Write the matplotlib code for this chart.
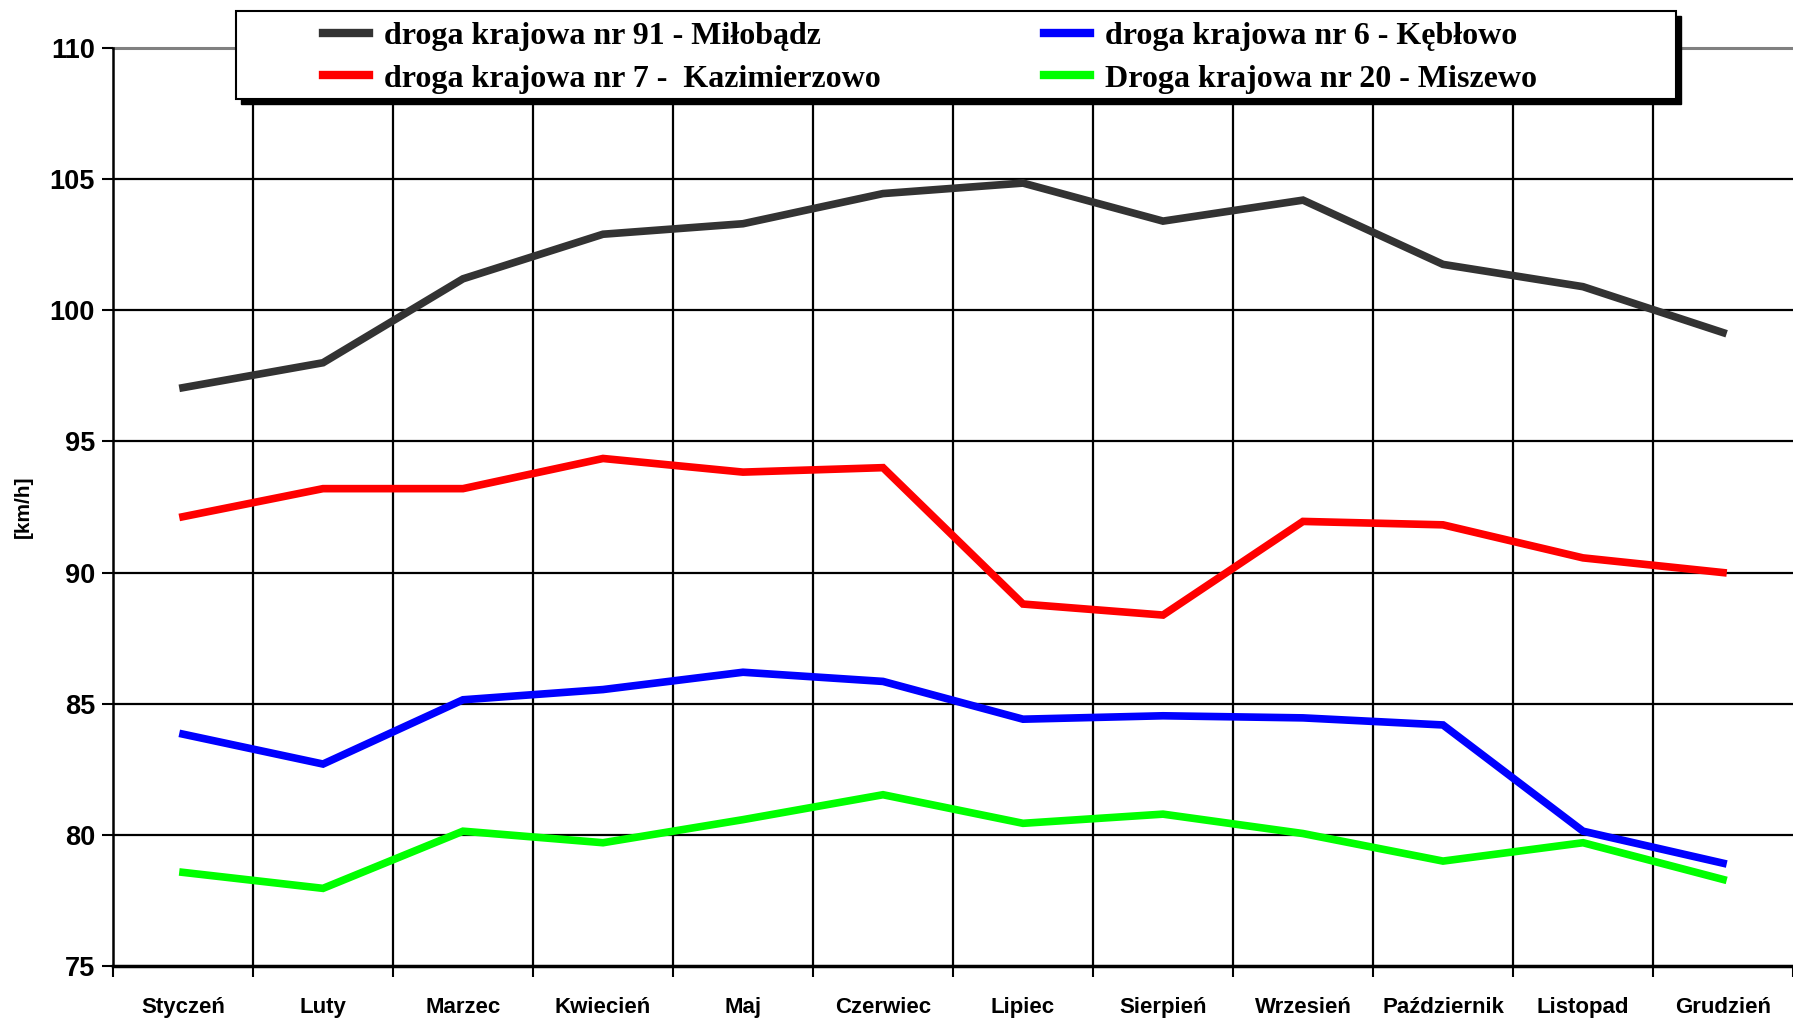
import numpy as np
import matplotlib.pyplot as plt
from matplotlib.patches import Rectangle

months = ["Styczeń", "Luty", "Marzec", "Kwiecień", "Maj", "Czerwiec",
          "Lipiec", "Sierpień", "Wrzesień", "Październik", "Listopad", "Grudzień"]

dk91 = [97.05, 98.0, 101.2, 102.9, 103.3, 104.45, 104.85, 103.4, 104.2, 101.75, 100.9, 99.15]
dk7 = [92.13, 93.2, 93.2, 94.35, 93.83, 94.0, 88.8, 88.38, 91.95, 91.82, 90.56, 90.0]
dk6 = [83.84, 82.7, 85.15, 85.54, 86.2, 85.85, 84.41, 84.54, 84.46, 84.19, 80.14, 78.92]
dk20 = [78.57, 77.96, 80.14, 79.7, 80.58, 81.53, 80.44, 80.79, 80.05, 79.0, 79.7, 78.3]

names = ["droga krajowa nr 91 - Miłobądz",
         "droga krajowa nr 7 -  Kazimierzowo",
         "droga krajowa nr 6 - Kębłowo",
         "Droga krajowa nr 20 - Miszewo"]
colors = ["#333333", "#ff0000", "#0000ff", "#00ff00"]

fig = plt.figure(figsize=(17.93, 10.21), dpi=100)
ax = fig.add_axes([113/1793, 55/1021, 1 - 113/1793, (966 - 48)/1021])

x = np.arange(len(months))
lines = []
for vals, c in zip([dk91, dk7, dk6, dk20], colors):
    ln, = ax.plot(x, vals, color=c, lw=5.5, solid_joinstyle="miter", zorder=3)
    lines.append(ln)

ax.set_xlim(-0.5, 11.5)
ax.set_ylim(75, 110)
ax.set_yticks(np.arange(75, 111, 5))
ax.set_xticks(np.arange(-0.5, 12, 1))
ax.set_xticklabels([])
ax.set_xticks(x, minor=True)
ax.set_xticklabels(months, minor=True)

ax.tick_params(axis="x", which="major", direction="out", length=8, width=1.5)
ax.tick_params(axis="x", which="minor", length=0, pad=22)
ax.tick_params(axis="y", direction="out", length=8, width=1.5, pad=5)
for lab in ax.get_xticklabels(minor=True):
    lab.set_fontfamily("Liberation Sans")
    lab.set_fontweight("bold")
    lab.set_fontsize(16)
for lab in ax.get_yticklabels():
    lab.set_fontfamily("Liberation Sans")
    lab.set_fontweight("bold")
    lab.set_fontsize(19.5)

# grid lines between categories and at every 5 km/h
for yv in np.arange(80, 110, 5):
    ax.axhline(yv, color="black", lw=1.6, zorder=1)
ax.axhline(110, color="#808080", lw=2.2, zorder=1, clip_on=False)
for xv in np.arange(0.5, 11, 1):
    ax.axvline(xv, color="black", lw=1.6, zorder=1)

ax.spines["top"].set_visible(False)
ax.spines["right"].set_visible(False)
ax.spines["left"].set_linewidth(1.8)
ax.spines["bottom"].set_linewidth(2.5)

ax.set_ylabel("[km/h]", fontfamily="Liberation Sans", fontweight="bold", fontsize=15, labelpad=12)

# legend box with shadow
bx, by, bw, bh = 236/1793, 1 - 99/1021, 1440/1793, 88/1021
shadow = Rectangle((bx + 5/1793, by - 5/1021), bw, bh, transform=fig.transFigure,
                   facecolor="black", edgecolor="black", zorder=5)
box = Rectangle((bx, by), bw, bh, transform=fig.transFigure,
                facecolor="white", edgecolor="black", lw=1.5, zorder=6)
fig.add_artist(shadow)
fig.add_artist(box)

font = {"family": "Liberation Serif", "weight": "bold", "size": 23}
kw = dict(loc="upper left", frameon=False, prop=font, handlelength=1.45,
          handletextpad=0.45, labelspacing=0.4, borderpad=0, borderaxespad=0)
leg1 = fig.legend(lines[:2], names[:2], bbox_to_anchor=(323/1793, 1 - 22/1021), **kw)
leg2 = fig.legend(lines[2:], names[2:], bbox_to_anchor=(1044/1793, 1 - 22/1021), **kw)
for lg in (leg1, leg2):
    lg.set_zorder(8)
    for h in lg.legend_handles:
        h.set_linewidth(6)

fig.savefig("out.png", dpi=100)
